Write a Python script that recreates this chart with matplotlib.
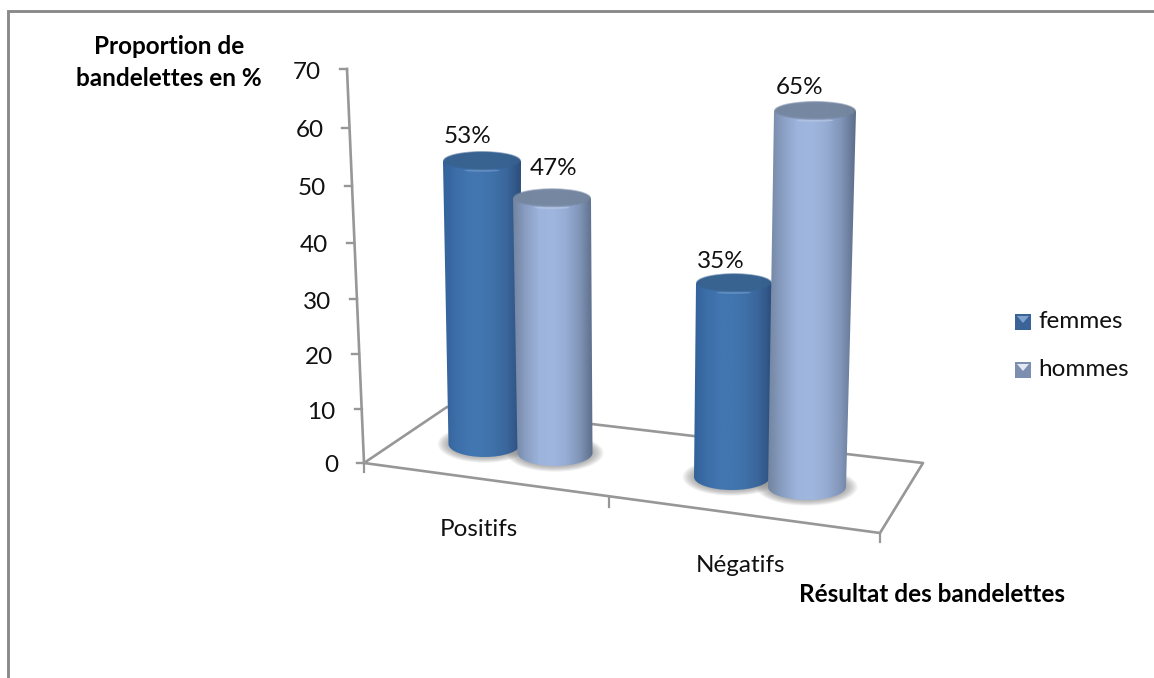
import numpy as np
import matplotlib
matplotlib.use("Agg")
import matplotlib.pyplot as plt
from matplotlib.patches import Ellipse, PathPatch, Rectangle
from matplotlib.path import Path
from matplotlib.colors import LinearSegmentedColormap

categories = ["Positifs", "Négatifs"]
series = ["femmes", "hommes"]
femmes = [53, 35]
hommes = [47, 65]
yticks = [0, 10, 20, 30, 40, 50, 60, 70]

plt.rcParams["font.family"] = ["Lato", "DejaVu Sans"]

W, H = 1154, 678
fig = plt.figure(figsize=(W / 100, H / 100), dpi=100)
ax = fig.add_axes([0, 0, 1, 1])
ax.set_xlim(0, W)
ax.set_ylim(H, 0)
ax.axis("off")

GRIS = "#979797"
NOIR = "#111111"
FS = 17.5
FS_BOLD = 17.5

# cadre
ax.plot([8, 8, W], [H, 10.5, 10.5], color="#8a8a8a", lw=2.1, solid_joinstyle="miter")


# axe vertical en perspective
def axe_y(v):
    return 463 - 5.351 * v / (1 - 0.000704 * v)


def axe_x(v):
    return 364 - 17 * v / 70


ax.plot([axe_x(0), axe_x(70)], [axe_y(0), axe_y(70)], color=GRIS, lw=1.9)
for v in yticks:
    ax.plot([axe_x(v) - 7, axe_x(v)], [axe_y(v), axe_y(v)], color=GRIS, lw=1.7)
    ax.text(axe_x(v) - 26, axe_y(v) + 3, str(v), ha="right", va="center",
            fontsize=FS, color=NOIR)

# plancher
plancher = np.array([[364, 463], [447, 407], [923, 463], [880, 533], [364, 463]])
ax.plot(plancher[:, 0], plancher[:, 1], color=GRIS, lw=1.9, solid_joinstyle="round")
for x, y in [(364, 463), (609, 498), (880, 533)]:
    ax.plot([x, x], [y, y + 9], color=GRIS, lw=1.6)

femmes_cmap = LinearSegmentedColormap.from_list(
    "f", ["#33629a", "#3c6ea8", "#4276b0", "#4276b0", "#3f70a8", "#3a659a", "#2b4e7c"])
hommes_cmap = LinearSegmentedColormap.from_list(
    "h", ["#72849f", "#8a9fc4", "#9db4dc", "#9fb6de", "#96acd3", "#8195b8", "#5d6d8a"])
couvercle = {"femmes": ("#38628f", "#6b95c6"), "hommes": ("#75869f", "#b4c6e4")}


def ombre(cx, cy, rx, ry):
    for k in np.linspace(1.0, 0.0, 14):
        ax.add_patch(Ellipse((cx, cy), 2 * rx * (1 + 0.3 * k), 2 * ry * (1 + 0.45 * k),
                             fc="#808080", ec="none", alpha=0.06, zorder=2))


def cylindre(bas, haut, rbas, rhaut, ryb, ryh, cmap, couleurs, z):
    xb, yb = bas
    xh, yh = haut
    k = 0.5523
    verts = [(xh - rhaut, yh), (xb - rbas, yb),
             (xb - rbas, yb + k * ryb), (xb - k * rbas, yb + ryb), (xb, yb + ryb),
             (xb + k * rbas, yb + ryb), (xb + rbas, yb + k * ryb), (xb + rbas, yb),
             (xh + rhaut, yh), (xh - rhaut, yh)]
    codes = [Path.MOVETO, Path.LINETO, Path.CURVE4, Path.CURVE4, Path.CURVE4,
             Path.CURVE4, Path.CURVE4, Path.CURVE4, Path.LINETO, Path.CLOSEPOLY]
    corps = PathPatch(Path(verts, codes), fc="none", ec="none", zorder=z)
    ax.add_patch(corps)
    grad = np.linspace(0, 1, 256).reshape(1, -1)
    x0, x1 = min(xb - rbas, xh - rhaut), max(xb + rbas, xh + rhaut)
    im = ax.imshow(grad, cmap=cmap, extent=[x0, x1, yb + ryb, yh], aspect="auto",
                   zorder=z, interpolation="bilinear")
    im.set_clip_path(corps)
    # dessus du cylindre : base du même dégradé, liseré clair, disque sombre
    dessus = Ellipse((xh, yh), 2 * rhaut, 2 * ryh, fc="none", ec="none", zorder=z + 0.1)
    ax.add_patch(dessus)
    im2 = ax.imshow(grad, cmap=cmap, extent=[x0, x1, yh + ryh, yh - ryh], aspect="auto",
                    zorder=z + 0.1, interpolation="bilinear")
    im2.set_clip_path(dessus)
    ax.add_patch(Ellipse((xh, yh + ryh - 1.5), rhaut * 0.9, 2.5, fc=couleurs[1], ec="none",
                         alpha=0.75, zorder=z + 0.15))
    ax.add_patch(Ellipse((xh, yh - 1), 1.2 * rhaut, 2 * ryh - 1, fc="#b9c4d2", ec="none",
                         alpha=0.6, zorder=z + 0.05))
    for t in np.linspace(0, 1, 5):
        ax.add_patch(Ellipse((xh, yh - 1.5), 2 * rhaut * (1 - 0.1 * t), 2 * ryh * (0.95 - 0.25 * t),
                             fc=couleurs[0], ec="none", alpha=0.45, zorder=z + 0.2))


# centres du pied et du dessus, qui se resserrent vers le fond
pieds = {"femmes": [(484.5, 444), (732, 477)], "hommes": [(555, 453), (807, 487)]}
echelles = {"femmes": [5.32, 5.51], "hommes": [5.40, 5.77]}
decalage_haut = {"femmes": [-2.5, 2], "hommes": [-3, 8]}
rayons_bas = {"femmes": [36, 38], "hommes": [37.5, 39]}
rayons_haut = {"femmes": [39, 38], "hommes": [39, 41]}
ecart_label = {"femmes": [(-14, -26), (-13, -23), ], "hommes": [(2, -31), (-15, -24)]}
valeurs = {"femmes": femmes, "hommes": hommes}
cmaps = {"femmes": femmes_cmap, "hommes": hommes_cmap}

for i in range(len(categories)):
    for s in series:
        xb, yb = pieds[s][i]
        ombre(xb, yb, rayons_bas[s][i], 13)

for i in range(len(categories)):
    for j, s in enumerate(series):
        xb, yb = pieds[s][i]
        val = valeurs[s][i]
        yh = yb - val * echelles[s][i]
        xh = xb + decalage_haut[s][i]
        cylindre((xb, yb), (xh, yh), rayons_bas[s][i], rayons_haut[s][i], 13, 10,
                 cmaps[s], couvercle[s], 5 + i * 2 + j)
        dx, dy = ecart_label[s][i]
        ax.text(xh + dx, yh + dy, f"{val}%", ha="center", va="center",
                fontsize=FS, color=NOIR, zorder=20)

# étiquettes des catégories
ax.text(479, 529, categories[0], ha="center", va="center", fontsize=FS, color=NOIR)
ax.text(740, 565, categories[1], ha="center", va="center", fontsize=FS, color=NOIR)

# titres des axes
ax.text(169, 46, "Proportion de", ha="center", va="center",
        fontsize=FS_BOLD, fontweight="bold", color="black")
ax.text(169, 79, "bandelettes en %", ha="center", va="center",
        fontsize=FS_BOLD, fontweight="bold", color="black")
ax.text(932, 595, "Résultat des bandelettes", ha="center", va="center",
        fontsize=FS_BOLD, fontweight="bold", color="black")

# légende
for y, s, c1, c2 in [(322, "femmes", "#3a6498", "#7fa3cf"), (370, "hommes", "#7d8fb0", "#e3e9f4")]:
    ax.add_patch(Rectangle((1015, y - 8), 16, 16, fc=c1, ec="none", zorder=3))
    ax.fill([1017, 1029, 1023], [y - 6, y - 6, y + 1], color=c2, zorder=4, lw=0)
    ax.text(1038, y, s, ha="left", va="center", fontsize=FS, color=NOIR)

fig.savefig("out.png", dpi=100)
